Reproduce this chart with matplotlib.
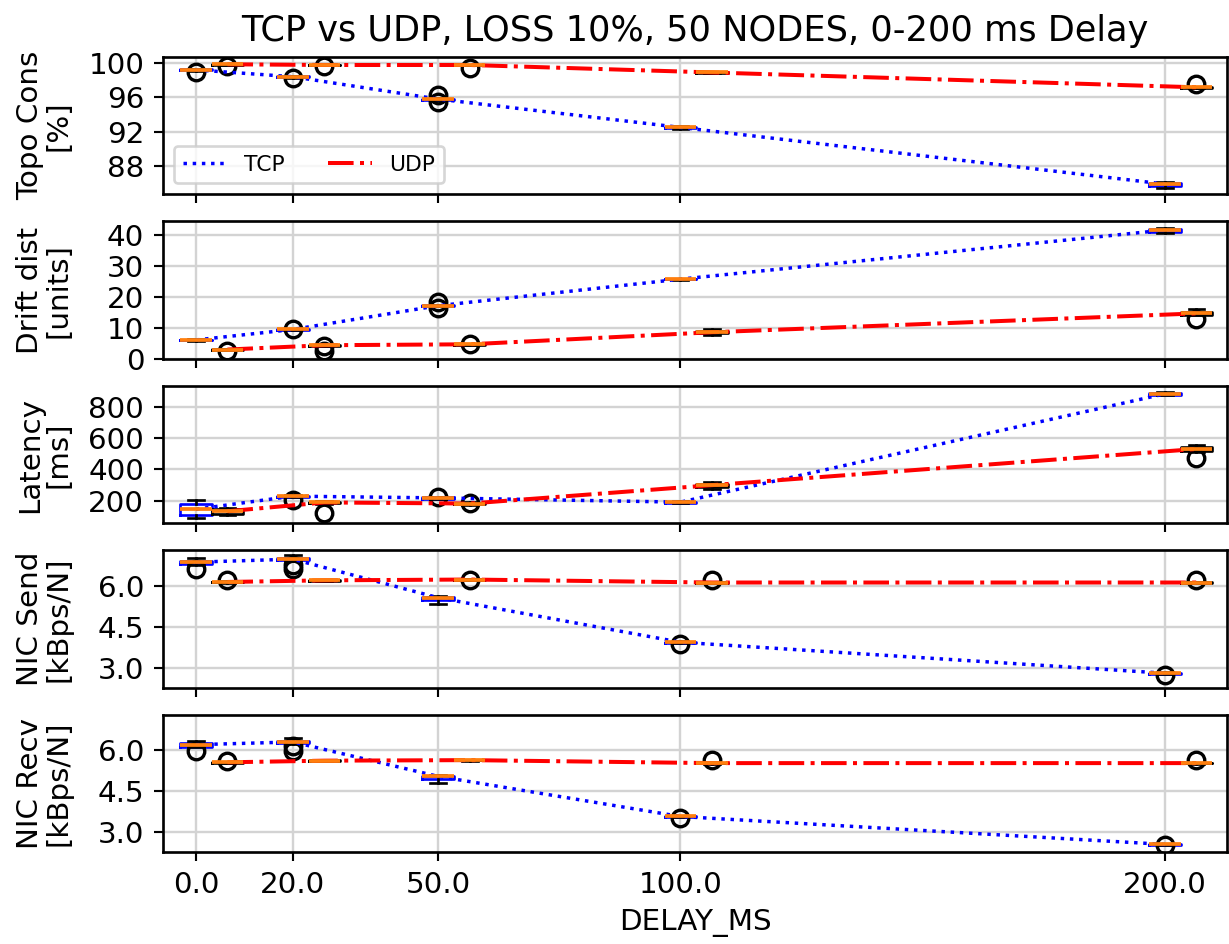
import matplotlib
matplotlib.use('Agg')
import matplotlib.pyplot as plt

plt.rcParams['font.family'] = ['DejaVu Sans']
plt.rcParams['font.size'] = 11

# ---------------- data ----------------
delays = [0.0, 20.0, 50.0, 100.0, 200.0]
xtick_labels = ['0.0', '20.0', '50.0', '100.0', '200.0']
udp_offset = 6.5
box_width = 6.5

metric_labels = ['Topo Cons\n[%]', 'Drift dist\n[units]', 'Latency\n[ms]',
                 'NIC Send\n[kBps/N]', 'NIC Recv\n[kBps/N]']

# Topology consistency [%]
topo_tcp_med = [99.2, 98.4, 95.8, 92.5, 85.9]
topo_tcp_q1 = [99.15, 98.35, 95.75, 92.4, 85.7]
topo_tcp_q3 = [99.25, 98.45, 95.85, 92.6, 86.05]
topo_tcp_lo = [99.1, 98.3, 95.7, 92.3, 85.5]
topo_tcp_hi = [99.3, 98.5, 95.9, 92.7, 86.2]
topo_tcp_fl = [[98.9], [98.2], [96.3, 95.5], [], []]
topo_udp_med = [99.85, 99.77, 99.77, 98.9, 97.17]
topo_udp_q1 = [99.82, 99.74, 99.74, 98.85, 97.12]
topo_udp_q3 = [99.88, 99.8, 99.8, 98.95, 97.22]
topo_udp_lo = [99.8, 99.72, 99.72, 98.8, 97.1]
topo_udp_hi = [99.9, 99.82, 99.82, 99.0, 97.25]
topo_udp_fl = [[99.65], [99.65], [99.4], [], [97.6]]

# Drift distance [units]
drift_tcp_med = [6.1, 9.5, 17.2, 25.8, 41.7]
drift_tcp_q1 = [6.0, 9.4, 17.1, 25.7, 41.2]
drift_tcp_q3 = [6.2, 9.6, 17.3, 25.9, 42.2]
drift_tcp_lo = [5.9, 9.3, 17.0, 25.6, 40.9]
drift_tcp_hi = [6.3, 9.7, 17.4, 26.0, 42.5]
drift_tcp_fl = [[], [9.6], [18.3, 16.3], [], []]
drift_udp_med = [3.0, 4.4, 4.7, 8.6, 14.7]
drift_udp_q1 = [2.9, 4.3, 4.6, 8.2, 14.3]
drift_udp_q3 = [3.1, 4.5, 4.8, 9.0, 15.1]
drift_udp_lo = [2.8, 4.2, 4.5, 7.7, 14.2]
drift_udp_hi = [3.2, 4.6, 4.9, 9.5, 16.1]
drift_udp_fl = [[2.6], [4.1, 2.6], [4.8], [], [12.9]]

# Latency [ms]
lat_tcp_med = [147, 230, 219, 192, 881]
lat_tcp_q1 = [113, 226, 215, 189, 875]
lat_tcp_q3 = [179, 234, 223, 195, 887]
lat_tcp_lo = [92, 222, 212, 187, 872]
lat_tcp_hi = [204, 238, 226, 197, 890]
lat_tcp_fl = [[], [204], [222], [], []]
lat_udp_med = [134, 190, 183, 300, 530]
lat_udp_q1 = [116, 186, 179, 288, 515]
lat_udp_q3 = [150, 194, 187, 310, 545]
lat_udp_lo = [109, 183, 176, 275, 513]
lat_udp_hi = [155, 197, 190, 317, 556]
lat_udp_fl = [[], [120], [186], [], [475]]

# NIC send [kBps/N]
send_tcp_med = [6.89, 7.0, 5.58, 3.94, 2.8]
send_tcp_q1 = [6.83, 6.96, 5.48, 3.92, 2.78]
send_tcp_q3 = [6.93, 7.03, 5.62, 3.96, 2.82]
send_tcp_lo = [6.8, 6.93, 5.34, 3.9, 2.77]
send_tcp_hi = [7.06, 7.14, 5.65, 3.98, 2.83]
send_tcp_fl = [[6.62], [6.77, 6.62], [], [3.86], [2.72]]
send_udp_med = [6.16, 6.22, 6.25, 6.14, 6.14]
send_udp_q1 = [6.15, 6.21, 6.24, 6.13, 6.13]
send_udp_q3 = [6.17, 6.23, 6.26, 6.15, 6.15]
send_udp_lo = [6.14, 6.2, 6.23, 6.12, 6.12]
send_udp_hi = [6.18, 6.24, 6.27, 6.16, 6.16]
send_udp_fl = [[6.22], [], [6.25], [6.22], [6.25]]

# NIC recv [kBps/N]
recv_tcp_med = [6.21, 6.31, 5.04, 3.56, 2.53]
recv_tcp_q1 = [6.14, 6.27, 4.93, 3.54, 2.52]
recv_tcp_q3 = [6.26, 6.34, 5.07, 3.58, 2.54]
recv_tcp_lo = [6.12, 6.25, 4.79, 3.53, 2.51]
recv_tcp_hi = [6.36, 6.46, 5.08, 3.59, 2.55]
recv_tcp_fl = [[5.96], [6.15, 5.98], [], [3.5], [2.51]]
recv_udp_med = [5.56, 5.62, 5.64, 5.53, 5.53]
recv_udp_q1 = [5.55, 5.61, 5.63, 5.52, 5.52]
recv_udp_q3 = [5.57, 5.63, 5.65, 5.54, 5.54]
recv_udp_lo = [5.54, 5.6, 5.62, 5.51, 5.51]
recv_udp_hi = [5.58, 5.64, 5.66, 5.55, 5.55]
recv_udp_fl = [[5.62], [], [], [5.63], [5.63]]

ylims = [(84.7, 100.7), (0, 44.5), (58, 932), (2.27, 7.33), (2.25, 7.32)]
yticks = [[88, 92, 96, 100], [0, 10, 20, 30, 40], [200, 400, 600, 800],
          [3.0, 4.5, 6.0], [3.0, 4.5, 6.0]]
ytick_labels = [['88', '92', '96', '100'], ['0', '10', '20', '30', '40'],
                ['200', '400', '600', '800'], ['3.0', '4.5', '6.0'], ['3.0', '4.5', '6.0']]


def make_stats(med, q1, q3, lo, hi, fl):
    return [dict(med=m, q1=a, q3=b, whislo=l, whishi=h, fliers=f)
            for m, a, b, l, h, f in zip(med, q1, q3, lo, hi, fl)]


metrics = [
    (make_stats(topo_tcp_med, topo_tcp_q1, topo_tcp_q3, topo_tcp_lo, topo_tcp_hi, topo_tcp_fl),
     make_stats(topo_udp_med, topo_udp_q1, topo_udp_q3, topo_udp_lo, topo_udp_hi, topo_udp_fl),
     topo_tcp_med, topo_udp_med),
    (make_stats(drift_tcp_med, drift_tcp_q1, drift_tcp_q3, drift_tcp_lo, drift_tcp_hi, drift_tcp_fl),
     make_stats(drift_udp_med, drift_udp_q1, drift_udp_q3, drift_udp_lo, drift_udp_hi, drift_udp_fl),
     drift_tcp_med, drift_udp_med),
    (make_stats(lat_tcp_med, lat_tcp_q1, lat_tcp_q3, lat_tcp_lo, lat_tcp_hi, lat_tcp_fl),
     make_stats(lat_udp_med, lat_udp_q1, lat_udp_q3, lat_udp_lo, lat_udp_hi, lat_udp_fl),
     lat_tcp_med, lat_udp_med),
    (make_stats(send_tcp_med, send_tcp_q1, send_tcp_q3, send_tcp_lo, send_tcp_hi, send_tcp_fl),
     make_stats(send_udp_med, send_udp_q1, send_udp_q3, send_udp_lo, send_udp_hi, send_udp_fl),
     send_tcp_med, send_udp_med),
    (make_stats(recv_tcp_med, recv_tcp_q1, recv_tcp_q3, recv_tcp_lo, recv_tcp_hi, recv_tcp_fl),
     make_stats(recv_udp_med, recv_udp_q1, recv_udp_q3, recv_udp_lo, recv_udp_hi, recv_udp_fl),
     recv_tcp_med, recv_udp_med),
]

# ---------------- figure ----------------
fig, axes = plt.subplots(5, 1, sharex=True, figsize=(1229 / 192, 944 / 192), dpi=192)
fig.subplots_adjust(left=163 / 1229, right=1227 / 1229, top=1 - 57 / 944,
                    bottom=1 - 852 / 944, hspace=0.1965)

udp_pos = [d + udp_offset for d in delays]
flier = dict(marker='o', markersize=6.2, markerfacecolor='none',
             markeredgecolor='black', markeredgewidth=1.25)
median = dict(color='#ff7f0e', linewidth=1.4)

for i, ax in enumerate(axes):
    tcp_stats, udp_stats, tcp_med, udp_med = metrics[i]
    ax.bxp(tcp_stats, positions=delays, widths=box_width, manage_ticks=False,
           boxprops=dict(color='blue'), flierprops=flier, medianprops=median)
    ax.bxp(udp_stats, positions=udp_pos, widths=box_width, manage_ticks=False,
           boxprops=dict(color='black'), flierprops=flier, medianprops=median)
    ax.plot(delays, tcp_med, linestyle=':', color='blue', linewidth=1.3, label='TCP')
    ax.plot(udp_pos, udp_med, linestyle='-.', color='red', linewidth=1.5, label='UDP')
    ax.set_ylim(*ylims[i])
    ax.set_yticks(yticks[i], labels=ytick_labels[i])
    ax.set_ylabel(metric_labels[i], fontsize=11, linespacing=1.0)
    ax.yaxis.set_label_coords(-0.0855, 0.5)
    ax.grid(True, color='lightgray', linewidth=0.9)
    ax.set_axisbelow(True)
    for s in ax.spines.values():
        s.set_linewidth(1.0)

axes[0].set_xlim(-6.8, 212.8)
axes[-1].set_xticks(delays, labels=xtick_labels)
axes[-1].set_xlabel('DELAY_MS')
axes[0].set_title('TCP vs UDP, LOSS 10%, 50 NODES, 0-200 ms Delay')
axes[0].legend(loc='lower left', ncol=2, fontsize=8.2)

fig.savefig('out.png', dpi=192)
